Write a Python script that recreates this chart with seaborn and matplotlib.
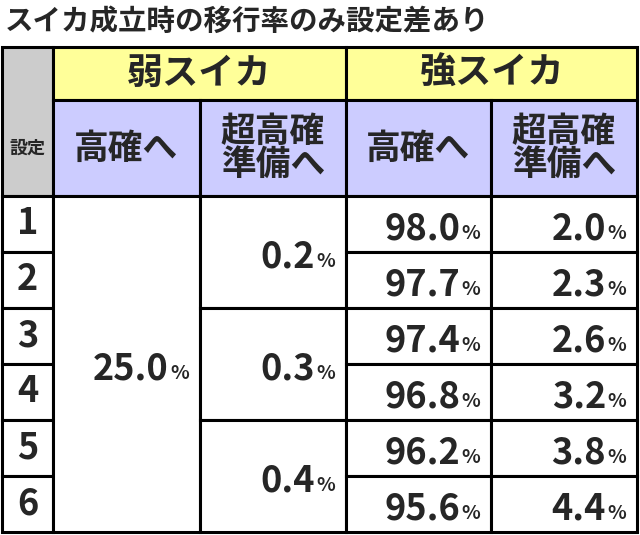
import matplotlib
matplotlib.use("Agg")
import matplotlib.pyplot as plt
import seaborn as sns
from matplotlib.patches import Rectangle

sns.set_theme(style="white")
FONT = "Noto Sans CJK JP"
plt.rcParams["font.family"] = FONT

title = "スイカ成立時の移行率のみ設定差あり"
groups = ["弱スイカ", "強スイカ"]
subheads = ["高確へ", "超高確\n準備へ", "高確へ", "超高確\n準備へ"]
settings = ["1", "2", "3", "4", "5", "6"]
weak_high = ["25.0"]
weak_super = ["0.2", "0.3", "0.4"]
strong_high = ["98.0", "97.7", "97.4", "96.8", "96.2", "95.6"]
strong_super = ["2.0", "2.3", "2.6", "3.2", "3.8", "4.4"]

fig = plt.figure(figsize=(6.4, 5.35), dpi=100)
ax = fig.add_axes([0, 0, 1, 1])
ax.set_xlim(0, 640); ax.set_ylim(535, 0); ax.axis("off")

xs = [2, 53, 200, 346, 491, 637]
y_h1, y_h2, y_r0 = 47, 100, 196
rh = (532 - y_r0) / 6
YEL, LAV, GRY = "#FFFF99", "#CCCCFF", "#CCCCCC"
lw = 2.2
W = "heavy"

def cell(x0, x1, y0, y1, fc="white"):
    ax.add_patch(Rectangle((x0, y0), x1 - x0, y1 - y0, fc=fc, ec="black", lw=lw))

ax.text(5, 22, title, fontsize=20.5, fontweight=W, va="center", ha="left")

cell(xs[0], xs[1], y_h1, y_r0, GRY)
ax.text((xs[0]+xs[1])/2, (y_h2+y_r0)/2, "設定", fontsize=13, fontweight=W, ha="center", va="center")
for g, (a, b) in zip(groups, [(1, 3), (3, 5)]):
    cell(xs[a], xs[b], y_h1, y_h2, YEL)
    ax.text((xs[a]+xs[b])/2, (y_h1+y_h2)/2, g, fontsize=26, fontweight=W, ha="center", va="center")
for i, s in enumerate(subheads):
    cell(xs[i+1], xs[i+2], y_h2, y_r0, LAV)
    ax.text((xs[i+1]+xs[i+2])/2, (y_h2+y_r0)/2, s, fontsize=25, fontweight=W,
            ha="center", va="center", linespacing=0.95)

def val(col, r0, r1, v):
    y0 = y_r0 + r0*rh; y1 = y_r0 + r1*rh
    cell(xs[col], xs[col+1], y0, y1)
    xr = xs[col+1] - 3
    yb = (y0+y1)/2 + 15
    ax.text(xr - 27, yb, "%", fontsize=14, fontweight=W, ha="left", va="baseline")
    ax.text(xr - 28, yb, v, fontsize=26, fontweight=W, ha="right", va="baseline")

for i, s in enumerate(settings):
    y0 = y_r0 + i*rh
    cell(xs[0], xs[1], y0, y0+rh)
    ax.text((xs[0]+xs[1])/2, y0+rh/2, s, fontsize=26, fontweight=W, ha="center", va="center")
val(1, 0, 6, weak_high[0])
for j, v in enumerate(weak_super):
    val(2, 2*j, 2*j+2, v)
for i in range(6):
    val(3, i, i+1, strong_high[i])
    val(4, i, i+1, strong_super[i])

fig.savefig("out.png", dpi=100)
